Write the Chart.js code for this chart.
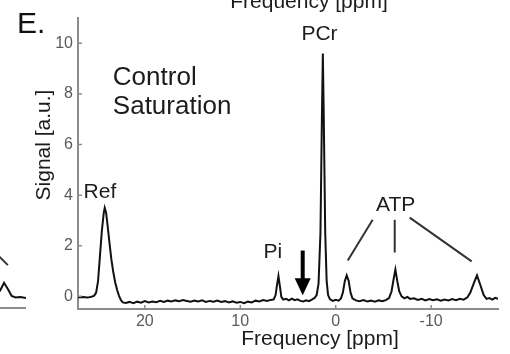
<!DOCTYPE html>
<html>
<head>
<meta charset="utf-8">
<script src="https://cdn.jsdelivr.net/npm/chart.js@4.4.1/dist/chart.umd.min.js"></script>
<style>
  html, body { margin: 0; padding: 0; background: #fff; overflow: hidden; }
  #wrap { position: relative; width: 510px; height: 354px; overflow: hidden; }
  #main { position: absolute; left: 0; top: 0; }
  #prev { position: absolute; left: -60px; top: 0; }
</style>
</head>
<body>
<div id="wrap">
  <canvas id="prev" width="86" height="354"></canvas>
  <canvas id="main" width="510" height="354"></canvas>
</div>
<script>
// 31P spectrum, control saturation (ppm axis runs high -> low)
const FREQ_PPM = [
  27.0, 26.5, 26.0, 25.6, 25.3, 25.1, 24.9, 24.7, 24.5, 24.3,
  24.2, 24.05, 23.9, 23.7, 23.5, 23.3, 23.1, 22.9, 22.7, 22.5,
  22.3, 22.0, 21.6, 21.2, 20.8, 20.4, 20.0, 19.6, 19.2, 18.8,
  18.4, 18.0, 17.6, 17.2, 16.8, 16.4, 16.0, 15.6, 15.2, 14.8,
  14.4, 14.0, 13.6, 13.2, 12.8, 12.4, 12.0, 11.6, 11.2, 10.8,
  10.4, 10.0, 9.6, 9.2, 8.8, 8.4, 8.0, 7.6, 7.2, 6.8,
  6.5, 6.3, 6.15, 6.0, 5.85, 5.7, 5.5, 5.2, 4.9, 4.6,
  4.3, 4.0, 3.7, 3.4, 3.1, 2.8, 2.5, 2.2, 2.0, 1.8,
  1.6, 1.45, 1.35, 1.25, 1.1, 0.95, 0.8, 0.6, 0.3, 0.0,
  -0.3, -0.55, -0.75, -0.95, -1.15, -1.35, -1.55, -1.75, -2.1, -2.5,
  -2.9, -3.3, -3.7, -4.1, -4.5, -4.9, -5.3, -5.6, -5.85, -6.05,
  -6.25, -6.45, -6.65, -6.9, -7.2, -7.5, -7.8, -8.2, -8.6, -9.0,
  -9.4, -9.8, -10.2, -10.6, -11.0, -11.4, -11.8, -12.2, -12.6, -13.0,
  -13.4, -13.8, -14.1, -14.45, -14.8, -15.15, -15.5, -15.8, -16.1, -16.4,
  -16.7, -17.0
];
const SIGNAL = [
  -0.04, -0.03, -0.05, -0.02, 0.03, 0.15, 0.6, 1.6, 2.6, 3.3,
  3.5, 3.3, 2.8, 2.1, 1.45, 0.95, 0.55, 0.25, 0.02, -0.15,
  -0.24, -0.26, -0.22, -0.27, -0.21, -0.25, -0.19, -0.24, -0.2, -0.23,
  -0.18, -0.22, -0.17, -0.2, -0.16, -0.19, -0.15, -0.18, -0.21, -0.17,
  -0.2, -0.16, -0.22, -0.18, -0.21, -0.17, -0.22, -0.19, -0.24, -0.2,
  -0.25, -0.22, -0.27, -0.21, -0.24, -0.17, -0.2, -0.15, -0.18, -0.14,
  -0.12, 0.05, 0.45, 0.8, 0.4, -0.02, -0.13, -0.1, -0.16, -0.09,
  -0.15, -0.12, -0.18, -0.2, -0.16, -0.19, -0.13, -0.06, 0.05, 0.5,
  2.5, 7.0, 9.6, 7.0, 2.5, 0.6, 0.05, -0.12, -0.18, -0.14,
  -0.17, -0.08, 0.15, 0.6, 0.83, 0.62, 0.15, -0.08, -0.16, -0.19,
  -0.15, -0.2, -0.17, -0.21, -0.16, -0.19, -0.14, -0.06, 0.2, 0.65,
  1.06, 0.6, 0.2, 0.0, -0.08, -0.02, -0.1, -0.08, -0.14, -0.1,
  -0.16, -0.11, -0.15, -0.12, -0.17, -0.13, -0.16, -0.11, -0.15, -0.1,
  -0.13, -0.04, 0.15, 0.5, 0.83, 0.45, 0.05, -0.1, -0.07, -0.13,
  -0.06, -0.1
];

// tail end of the neighbouring panel's spectrum
const PREV_FREQ = [-8.5, -9.5, -10.5, -11.5, -12.5, -13.3, -13.9, -14.3, -14.7, -15.1, -15.5, -15.9, -16.4, -17.0];
const PREV_SIGNAL = [-0.08, -0.04, -0.09, -0.05, -0.1, -0.05, 0.02, 0.2, 0.5, 0.25, -0.02, -0.08, -0.06, -0.1];

const X_TICKS = [20, 10, 0, -10];
const Y_TICKS = [0, 2, 4, 6, 8, 10];

const FONT = '"Liberation Sans", Arial, sans-serif';
const AXIS_COLOR = '#8c8c8c';
const TICK_COLOR = '#5a5a5a';
const INK = '#1c1c1c';

// peak labels, placed in ppm / signal units
const PEAK_LABELS = [
  { text: 'Ref', ppm: 24.7, sig: 4.1 },
  { text: 'PCr', ppm: 1.7, sig: 10.35 },
  { text: 'Pi', ppm: 6.6, sig: 1.73 },
  { text: 'ATP', ppm: -6.28, sig: 3.62 },
];
// leader lines from the ATP label to its three peaks
const ATP_LEADERS = [
  [-3.87, 3.03, -1.26, 1.42],
  [-6.18, 3.03, -6.18, 1.73],
  [-7.75, 3.11, -14.24, 1.38],
];
const ARROW = { ppm: 3.46, from: 1.81, to: 0.04 };

function fixedTicks(list) {
  return scale => { scale.ticks = list.map(v => ({ value: v })); };
}

const annotate = {
  id: 'annotate',
  afterDraw(chart) {
    const { ctx, chartArea: a, scales: { x, y } } = chart;
    const px = p => x.getPixelForValue(p);
    const py = v => y.getPixelForValue(v);
    ctx.save();

    // short inward tick marks
    ctx.strokeStyle = AXIS_COLOR;
    ctx.lineWidth = 1.5;
    ctx.beginPath();
    X_TICKS.forEach(t => { ctx.moveTo(px(t), a.bottom); ctx.lineTo(px(t), a.bottom - 4); });
    Y_TICKS.forEach(t => { ctx.moveTo(a.left, py(t)); ctx.lineTo(a.left + 4, py(t)); });
    ctx.stroke();

    // peak names
    ctx.fillStyle = INK;
    ctx.font = `21px ${FONT}`;
    ctx.textAlign = 'center';
    ctx.textBaseline = 'middle';
    PEAK_LABELS.forEach(l => ctx.fillText(l.text, px(l.ppm), py(l.sig)));

    ctx.strokeStyle = '#333';
    ctx.lineWidth = 2;
    ctx.beginPath();
    ATP_LEADERS.forEach(([p0, s0, p1, s1]) => { ctx.moveTo(px(p0), py(s0)); ctx.lineTo(px(p1), py(s1)); });
    ctx.stroke();

    // arrow at the saturation frequency
    const ax = px(ARROW.ppm), top = py(ARROW.from), tip = py(ARROW.to);
    ctx.fillStyle = '#000';
    ctx.fillRect(ax - 2, top, 4, tip - top - 14);
    ctx.beginPath();
    ctx.moveTo(ax - 8, tip - 17);
    ctx.lineTo(ax + 8, tip - 17);
    ctx.lineTo(ax, tip);
    ctx.closePath();
    ctx.fill();

    // condition caption
    ctx.fillStyle = INK;
    ctx.font = `26px ${FONT}`;
    ctx.textAlign = 'left';
    ctx.fillText('Control', px(23.35), py(8.62));
    ctx.fillText('Saturation', px(23.35), py(7.48));

    // axis titles
    ctx.font = `21px ${FONT}`;
    ctx.textAlign = 'center';
    ctx.textBaseline = 'alphabetic';
    ctx.fillText('Frequency [ppm]', a.left + 242, a.bottom + 36);
    // title of the panel above, cut at the top edge
    ctx.fillText('Frequency [ppm]', a.left + 231, a.top - 10);

    ctx.save();
    ctx.translate(a.left - 28, a.top + 127);
    ctx.rotate(-Math.PI / 2);
    ctx.fillText('Signal [a.u.]', 0, 0);
    ctx.restore();

    // panel letter
    ctx.font = `30px ${FONT}`;
    ctx.textAlign = 'left';
    ctx.fillStyle = '#111';
    ctx.fillText('E.', 17, 33);

    ctx.restore();
  }
};

new Chart(document.getElementById('main'), {
  type: 'line',
  data: {
    datasets: [{
      data: FREQ_PPM.map((p, i) => ({ x: p, y: SIGNAL[i] })),
      borderColor: '#111',
      borderWidth: 2,
      pointRadius: 0,
      tension: 0,
    }]
  },
  options: {
    responsive: false,
    animation: false,
    devicePixelRatio: 1,
    layout: { padding: { left: 0, top: 18, right: 12, bottom: 0 } },
    plugins: { legend: { display: false }, tooltip: { enabled: false } },
    scales: {
      x: {
        type: 'linear', reverse: true, min: -17, max: 27,
        afterBuildTicks: fixedTicks(X_TICKS),
        afterFit: s => { s.height = 45; },
        grid: { display: false, drawTicks: false },
        border: { display: true, color: AXIS_COLOR, width: 2 },
        ticks: { color: TICK_COLOR, font: { family: FONT, size: 16 }, padding: 3 },
      },
      y: {
        min: -0.5, max: 11,
        afterBuildTicks: fixedTicks(Y_TICKS),
        afterFit: s => { s.width = 78; },
        grid: { display: false, drawTicks: false },
        border: { display: true, color: AXIS_COLOR, width: 2 },
        ticks: { color: TICK_COLOR, font: { family: FONT, size: 16 }, padding: 5 },
      }
    }
  },
  plugins: [annotate]
});

// leader line left over from the neighbouring panel
const prevLeader = {
  id: 'prevLeader',
  afterDraw(chart) {
    const { ctx, scales: { x, y } } = chart;
    ctx.save();
    ctx.strokeStyle = '#333';
    ctx.lineWidth = 2;
    ctx.beginPath();
    ctx.moveTo(x.getPixelForValue(-12.2), y.getPixelForValue(2.3));
    ctx.lineTo(x.getPixelForValue(-15.1), y.getPixelForValue(1.2));
    ctx.stroke();
    ctx.restore();
  }
};

new Chart(document.getElementById('prev'), {
  type: 'line',
  data: {
    datasets: [{
      data: PREV_FREQ.map((p, i) => ({ x: p, y: PREV_SIGNAL[i] })),
      borderColor: '#111',
      borderWidth: 2,
      pointRadius: 0,
      tension: 0,
    }]
  },
  options: {
    responsive: false,
    animation: false,
    devicePixelRatio: 1,
    layout: { padding: { left: 0, top: 18, right: 0, bottom: 46 } },
    plugins: { legend: { display: false }, tooltip: { enabled: false } },
    scales: {
      x: {
        type: 'linear', reverse: true, min: -17, max: -8,
        afterFit: s => { s.height = 0; },
        grid: { display: false, drawTicks: false },
        border: { display: true, color: AXIS_COLOR, width: 2 },
        ticks: { display: false },
      },
      y: { display: false, min: -0.5, max: 11 }
    }
  },
  plugins: [prevLeader]
});
</script>
</body>
</html>
